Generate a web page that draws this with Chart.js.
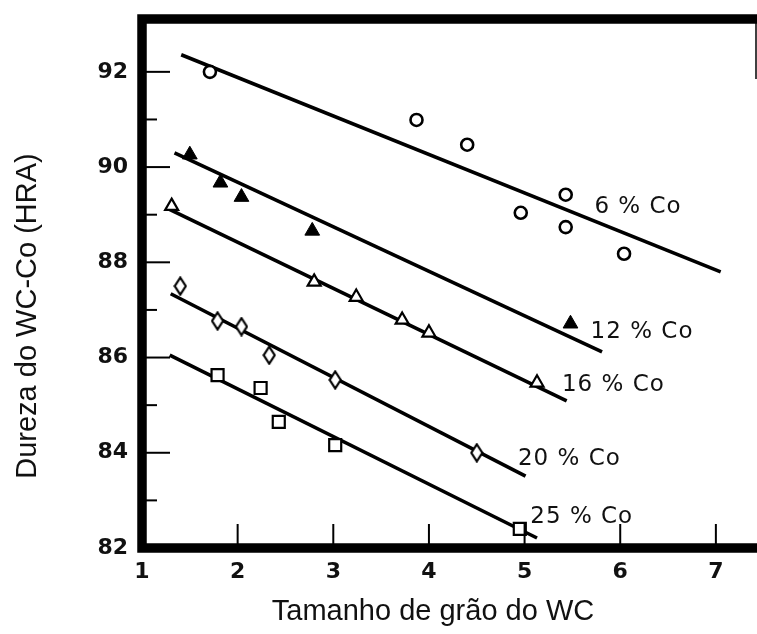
<!DOCTYPE html>
<html>
<head>
<meta charset="utf-8">
<script src="https://cdn.jsdelivr.net/npm/chart.js@4"></script>
<style>
  html, body { margin: 0; padding: 0; background: #fff; }
  #wrap { width: 757px; height: 634px; }
</style>
</head>
<body>
<div id="wrap"><canvas id="chart" width="757" height="634"></canvas></div>
<script>
// ---------- data ----------
const xTicks = [1, 2, 3, 4, 5, 6, 7];
const yTicks = [82, 84, 86, 88, 90, 92];
const yMinor = [83, 85, 87, 89, 91];

// 6 % Co (open circles)
const co6X = [1.71, 3.87, 4.40, 4.96, 5.43, 5.43, 6.04];
const co6Y = [92.00, 90.99, 90.47, 89.04, 89.42, 88.74, 88.18];
const fit6X = [1.41, 7.05];
const fit6Y = [92.36, 87.80];

// 12 % Co (filled triangles)
const co12X = [1.50, 1.82, 2.04, 2.78, 5.48];
const co12Y = [90.26, 89.67, 89.37, 88.66, 86.71];
const fit12X = [1.34, 5.81];
const fit12Y = [90.30, 86.12];

// 16 % Co (open triangles)
const co16X = [1.31, 2.80, 3.24, 3.72, 4.00, 5.13];
const co16Y = [89.18, 87.59, 87.27, 86.79, 86.52, 85.47];
const fit16X = [1.26, 5.44];
const fit16Y = [89.14, 85.09];

// 20 % Co (diamonds)
const co20X = [1.40, 1.79, 2.04, 2.33, 3.02, 4.50];
const co20Y = [87.50, 86.77, 86.65, 86.05, 85.53, 84.00];
const fit20X = [1.30, 5.01];
const fit20Y = [87.34, 83.51];

// 25 % Co (open squares)
const co25X = [1.79, 2.24, 2.43, 3.02, 4.95];
const co25Y = [85.63, 85.36, 84.65, 84.16, 82.40];
const fit25X = [1.29, 5.13];
const fit25Y = [86.05, 82.21];

// curve labels (anchored in data units: left edge, middle)
const labelText = ["6 % Co", "12 % Co", "16 % Co", "20 % Co", "25 % Co"];
const labelX = [5.73, 5.69, 5.39, 4.93, 5.06];
const labelY = [89.16, 86.54, 85.42, 83.87, 82.65];

const xTitle = "Tamanho de grão do WC";
const yTitle = "Dureza do WC-Co (HRA)";

// ---------- helpers ----------
function pts(xs, ys) {
  return xs.map((x, i) => ({ x: x, y: ys[i] }));
}

// tall narrow diamond marker
function diamondMarker() {
  const c = document.createElement("canvas");
  c.width = 14; c.height = 20;
  const g = c.getContext("2d");
  g.beginPath();
  g.moveTo(7, 1.5);
  g.lineTo(12.5, 10);
  g.lineTo(7, 18.5);
  g.lineTo(1.5, 10);
  g.closePath();
  g.fillStyle = "#fff";
  g.fill();
  g.lineWidth = 2.2;
  g.strokeStyle = "#000";
  g.stroke();
  return c;
}

function fitLine(xs, ys) {
  return {
    data: pts(xs, ys),
    showLine: true,
    borderColor: "#000",
    borderWidth: 3.6,
    pointRadius: 0,
    order: 2
  };
}

function markers(xs, ys, style, radius, fill, bw) {
  return {
    data: pts(xs, ys),
    showLine: false,
    pointStyle: style,
    pointRadius: radius,
    pointBackgroundColor: fill,
    pointBorderColor: "#000",
    pointBorderWidth: bw,
    order: 1
  };
}

function noPad(s) {
  s.paddingTop = 0; s.paddingBottom = 0;
  s.paddingLeft = 0; s.paddingRight = 0;
}

// frame, inward ticks, curve labels, axis titles
const decor = {
  id: "decor",
  afterDatasetsDraw(chart) {
    const ctx = chart.ctx;
    const a = chart.chartArea;
    const xs = chart.scales.x, ys = chart.scales.y;
    ctx.save();
    ctx.strokeStyle = "#000";

    // inward ticks
    ctx.lineWidth = 2;
    yTicks.forEach(v => {
      const p = ys.getPixelForValue(v);
      ctx.beginPath(); ctx.moveTo(a.left, p); ctx.lineTo(a.left + 28, p); ctx.stroke();
    });
    yMinor.forEach(v => {
      const p = ys.getPixelForValue(v);
      ctx.beginPath(); ctx.moveTo(a.left, p); ctx.lineTo(a.left + 15, p); ctx.stroke();
    });
    xTicks.slice(1).forEach(v => {
      const p = xs.getPixelForValue(v);
      ctx.beginPath(); ctx.moveTo(p, a.bottom); ctx.lineTo(p, a.bottom - 24); ctx.stroke();
    });

    // frame
    ctx.lineWidth = 9.5;
    ctx.beginPath();
    ctx.moveTo(a.right + 5, a.top);
    ctx.lineTo(a.left, a.top);
    ctx.lineTo(a.left, a.bottom);
    ctx.lineTo(a.right + 5, a.bottom);
    ctx.stroke();
    ctx.lineWidth = 1.5;
    ctx.beginPath();
    ctx.moveTo(a.right - 1, a.top);
    ctx.lineTo(a.right - 1, a.top + 60);
    ctx.stroke();

    // curve labels
    ctx.fillStyle = "#111";
    ctx.font = "23px 'DejaVu Sans'";
    ctx.letterSpacing = "1px";
    ctx.textAlign = "left";
    ctx.textBaseline = "middle";
    labelText.forEach((t, i) => {
      ctx.fillText(t, xs.getPixelForValue(labelX[i]), ys.getPixelForValue(labelY[i]));
    });
    ctx.letterSpacing = "0px";

    // axis titles
    ctx.font = "29px 'Liberation Sans', Arial, sans-serif";
    ctx.textAlign = "center";
    ctx.textBaseline = "middle";
    ctx.fillText(xTitle, 433, 612);
    ctx.translate(28, 316);
    ctx.rotate(-Math.PI / 2);
    ctx.fillText(yTitle, 0, 0);
    ctx.restore();
  }
};

// ---------- chart ----------
new Chart(document.getElementById("chart"), {
  type: "scatter",
  data: {
    datasets: [
      fitLine(fit6X, fit6Y),
      fitLine(fit12X, fit12Y),
      fitLine(fit16X, fit16Y),
      fitLine(fit20X, fit20Y),
      fitLine(fit25X, fit25Y),
      markers(co6X, co6Y, "circle", 6, "#fff", 2.6),
      markers(co12X, co12Y, "triangle", 8.5, "#000", 1),
      markers(co16X, co16Y, "triangle", 7.5, "#fff", 2.2),
      markers(co20X, co20Y, diamondMarker(), 8, "#fff", 2),
      markers(co25X, co25Y, "rect", 8.5, "#fff", 2.2)
    ]
  },
  options: {
    responsive: false,
    animation: false,
    layout: { autoPadding: false, padding: { top: 19, right: 0, left: 0, bottom: 0 } },
    plugins: {
      legend: { display: false },
      tooltip: { enabled: false }
    },
    scales: {
      x: {
        type: "linear",
        min: 1,
        max: 7.43,
        afterFit(s) { s.height = 86; noPad(s); },
        afterBuildTicks(s) { s.ticks = xTicks.map(v => ({ value: v })); },
        grid: { display: false, drawTicks: false },
        border: { display: false },
        ticks: {
          padding: 11,
          color: "#111",
          font: { family: "'DejaVu Sans'", size: 22, weight: "bold" }
        }
      },
      y: {
        type: "linear",
        min: 82,
        max: 93.11,
        afterFit(s) { s.width = 142; noPad(s); },
        afterBuildTicks(s) { s.ticks = yTicks.map(v => ({ value: v })); },
        grid: { display: false, drawTicks: false },
        border: { display: false },
        ticks: {
          padding: 14,
          color: "#111",
          font: { family: "'DejaVu Sans'", size: 22, weight: "bold" }
        }
      }
    }
  },
  plugins: [decor]
});
</script>
</body>
</html>
